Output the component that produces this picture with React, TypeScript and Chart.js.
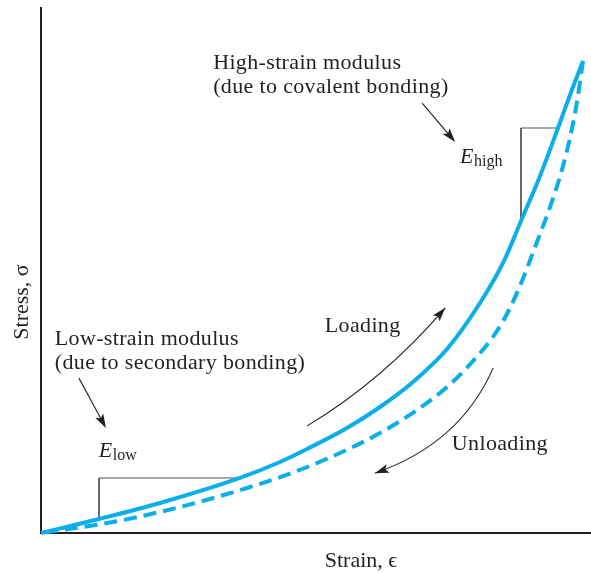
import React, { useEffect, useRef } from "react";
import { Chart, registerables } from "chart.js";

Chart.register(...registerables);

// Loading curve (strain, stress) in arbitrary units
const loadingStrain = [0, 10.55, 21.64, 36.18, 43.45, 48.36, 55.64, 61.64, 67.64, 73.82, 79.82, 84.0, 87.27, 90.73, 94.0, 96.18, 98.55];
const loadingStress = [0, 2.67, 5.71, 10.48, 13.52, 16.0, 20.0, 24.0, 28.76, 35.05, 43.81, 51.43, 59.43, 68.0, 77.14, 83.43, 89.9];

// Unloading curve
const unloadingStrain = [98.55, 97.45, 96.18, 94.55, 92.55, 90.18, 87.45, 85.27, 82.91, 78.55, 73.82, 68.36, 61.64, 54.36, 46.55, 38.0, 25.27, 13.09, 0];
const unloadingStress = [89.9, 82.1, 75.24, 68.57, 62.1, 55.43, 48.0, 42.86, 38.48, 32.76, 27.81, 23.43, 19.05, 15.24, 11.81, 8.76, 4.95, 2.1, 0];

// Modulus slope triangles
const lowBoxStrain = [36.18, 10.55, 10.55];
const lowBoxStress = [10.48, 10.48, 2.67];
const highBoxStrain = [94.0, 87.27, 87.27];
const highBoxStress = [77.14, 77.14, 59.43];

const yAxisLabel = "Stress, σ";
const xAxisLabel = "Strain, ϵ";

const zip = (xs: number[], ys: number[]) => xs.map((x, i) => ({ x, y: ys[i] }));

const BLUE = "#0aaee8";
const INK = "#231f20";
const SERIF = '"Liberation Serif", "Times New Roman", serif';

const annotations = {
  highText: { x: 31.3, y: 88.4, lines: ["High-strain modulus", "(due to covalent bonding)"] },
  lowText: { x: 2.5, y: 35.8, lines: ["Low-strain modulus", "(due to secondary bonding)"] },
  loading: { x: 51.6, y: 38.3, text: "Loading" },
  unloading: { x: 74.7, y: 15.8, text: "Unloading" },
  eHigh: { x: 76.2, y: 70.5, sub: "high" },
  eLow: { x: 10.5, y: 14.5, sub: "low" },
  highArrow: { from: [69.3, 81.9], to: [75.3, 74.5] },
  lowArrow: { from: [6.9, 29.5], to: [11.8, 20.0] },
  loadArrow: { from: [48.4, 20.4], ctrl: [62.4, 29.3], to: [73.5, 42.9] },
  unloadArrow: { from: [82.2, 31.4], ctrl: [76.2, 17.0], to: [60.7, 11.4] },
};

function drawHead(ctx: CanvasRenderingContext2D, tx: number, ty: number, ang: number) {
  const len = 14;
  const half = 4.5;
  ctx.save();
  ctx.translate(tx, ty);
  ctx.rotate(ang);
  ctx.beginPath();
  ctx.moveTo(0, 0);
  ctx.lineTo(-len, -half);
  ctx.lineTo(-len + 3, 0);
  ctx.lineTo(-len, half);
  ctx.closePath();
  ctx.fill();
  ctx.restore();
}

const annotationPlugin = {
  id: "annotations",
  afterDraw(chart: any) {
    const { ctx, scales } = chart;
    const X = (v: number) => scales.x.getPixelForValue(v);
    const Y = (v: number) => scales.y.getPixelForValue(v);
    ctx.save();
    ctx.fillStyle = INK;
    ctx.strokeStyle = INK;
    ctx.textBaseline = "alphabetic";
    ctx.textAlign = "left";
    ctx.font = `22px ${SERIF}`;
    (ctx as any).letterSpacing = "0.35px";

    const multi = (a: { x: number; y: number; lines: string[] }) => {
      a.lines.forEach((l, i) => ctx.fillText(l, X(a.x), Y(a.y) + i * 24));
    };
    multi(annotations.highText);
    multi(annotations.lowText);
    ctx.fillText(annotations.loading.text, X(annotations.loading.x), Y(annotations.loading.y));
    ctx.fillText(annotations.unloading.text, X(annotations.unloading.x), Y(annotations.unloading.y));
    (ctx as any).letterSpacing = "0px";

    const eLabel = (a: { x: number; y: number; sub: string }) => {
      ctx.font = `italic 22px ${SERIF}`;
      const px = X(a.x);
      const py = Y(a.y);
      ctx.fillText("E", px, py);
      const w = ctx.measureText("E").width;
      ctx.font = `16px ${SERIF}`;
      ctx.fillText(a.sub, px + w + 0.5, py + 3);
    };
    eLabel(annotations.eHigh);
    eLabel(annotations.eLow);

    ctx.lineWidth = 1.1;
    const straight = (a: { from: number[]; to: number[] }) => {
      const x0 = X(a.from[0]), y0 = Y(a.from[1]);
      const x1 = X(a.to[0]), y1 = Y(a.to[1]);
      const ang = Math.atan2(y1 - y0, x1 - x0);
      ctx.beginPath();
      ctx.moveTo(x0, y0);
      ctx.lineTo(x1 - Math.cos(ang) * 8, y1 - Math.sin(ang) * 8);
      ctx.stroke();
      drawHead(ctx, x1, y1, ang);
    };
    straight(annotations.highArrow);
    straight(annotations.lowArrow);

    const curved = (a: { from: number[]; ctrl: number[]; to: number[] }) => {
      const x0 = X(a.from[0]), y0 = Y(a.from[1]);
      const cx = X(a.ctrl[0]), cy = Y(a.ctrl[1]);
      const x1 = X(a.to[0]), y1 = Y(a.to[1]);
      ctx.beginPath();
      ctx.moveTo(x0, y0);
      ctx.quadraticCurveTo(cx, cy, x1, y1);
      ctx.stroke();
      const ang = Math.atan2(y1 - cy, x1 - cx);
      drawHead(ctx, x1, y1, ang);
    };
    curved(annotations.loadArrow);
    curved(annotations.unloadArrow);

    // axis titles
    ctx.font = `22px ${SERIF}`;
    ctx.textAlign = "center";
    ctx.textBaseline = "middle";
    ctx.fillText(xAxisLabel, (chart.chartArea.left + chart.chartArea.right) / 2 + 45, 561);
    ctx.save();
    ctx.translate(22, 302);
    ctx.rotate(-Math.PI / 2);
    ctx.fillText(yAxisLabel, 0, 0);
    ctx.restore();
    ctx.restore();
  },
};

export default function App() {
  const ref = useRef<HTMLCanvasElement | null>(null);
  useEffect(() => {
    if (!ref.current) return;
    const chart = new Chart(ref.current, {
      type: "line",
      data: {
        datasets: [
          {
            label: "Loading",
            data: zip(loadingStrain, loadingStress),
            borderColor: BLUE,
            borderWidth: 4,
            pointRadius: 0,
            cubicInterpolationMode: "monotone",
            clip: false,
          } as any,
          {
            label: "Unloading",
            data: zip(unloadingStrain, unloadingStress),
            borderColor: BLUE,
            borderWidth: 4,
            borderDash: [13, 7],
            pointRadius: 0,
            cubicInterpolationMode: "monotone",
            clip: false,
          } as any,
          {
            label: "Elow",
            data: zip(lowBoxStrain, lowBoxStress),
            borderColor: "#555",
            borderWidth: 1,
            pointRadius: 0,
            tension: 0,
          },
          {
            label: "Ehigh",
            data: zip(highBoxStrain, highBoxStress),
            borderColor: "#555",
            borderWidth: 1,
            pointRadius: 0,
            tension: 0,
          },
        ],
      },
      options: {
        responsive: false,
        animation: false,
        layout: { padding: { left: 33, top: 8, right: 0, bottom: 32 } },
        plugins: { legend: { display: false }, tooltip: { enabled: false } },
        scales: {
          x: {
            type: "linear",
            min: 0,
            max: 100,
            grid: { display: false },
            ticks: { display: false },
            border: { display: true, color: INK, width: 2 },
          },
          y: {
            type: "linear",
            min: 0,
            max: 100,
            grid: { display: false },
            ticks: { display: false },
            border: { display: true, color: INK, width: 2 },
          },
        },
      },
      plugins: [annotationPlugin],
    });
    return () => chart.destroy();
  }, []);
  return (
    <div style={{ position: "absolute", left: 0, top: 0, width: 591, height: 573, background: "#fff" }}>
      <canvas ref={ref} width={591} height={573} style={{ display: "block" }} />
    </div>
  );
}
